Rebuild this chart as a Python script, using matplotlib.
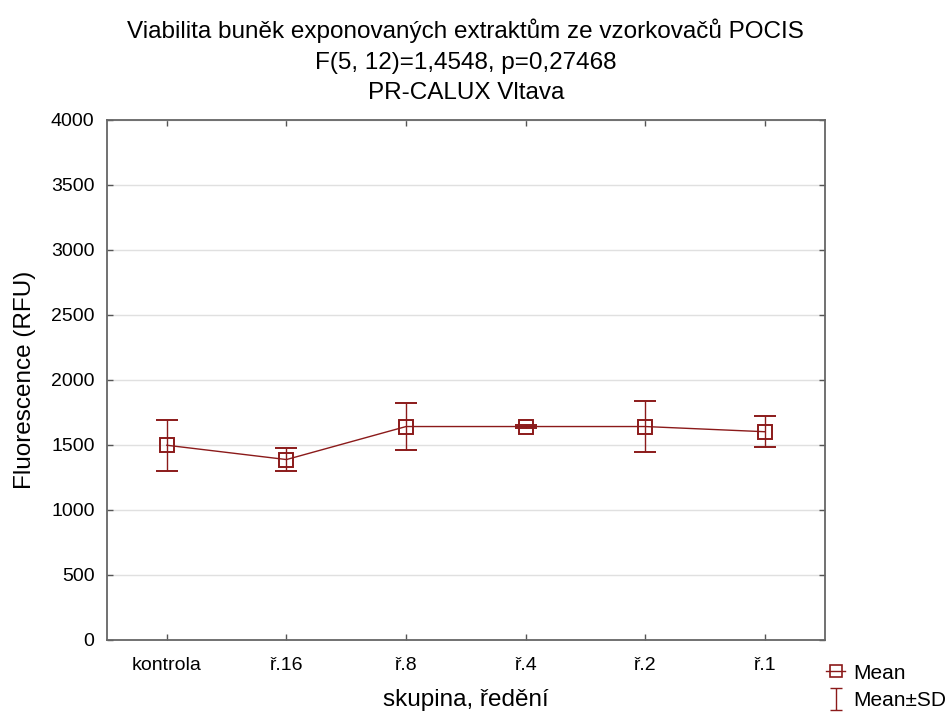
import matplotlib
matplotlib.use("Agg")
import matplotlib.pyplot as plt
from matplotlib.lines import Line2D
from matplotlib.path import Path

plt.rcParams['font.family'] = ['Liberation Sans', 'DejaVu Sans']

# data
groups = ["kontrola", "ř.16", "ř.8", "ř.4", "ř.2", "ř.1"]
means = [1498, 1388, 1642, 1642, 1642, 1602]
sds = [195, 87, 182, 10, 198, 118]

red = "#8b1a1a"

fig = plt.figure(figsize=(9.49, 7.13), dpi=100)
ax = fig.add_axes([0.1128, 0.1024, 0.869 - 0.1128, 0.8317 - 0.1024])

x = list(range(len(groups)))
ax.errorbar(x, means, yerr=sds, color=red, lw=1.0, elinewidth=1.0,
            capsize=8, capthick=1.0, marker='s', markersize=10,
            markerfacecolor='none', markeredgecolor=red, markeredgewidth=1.4)

ax.set_xlim(-0.5, len(groups) - 0.5)
ax.set_ylim(0, 4000)
ax.set_yticks(range(0, 4001, 500))
ax.set_xticks(x)
ax.set_xticklabels(groups)
ax.grid(axis='y', color='#e0e0e0', lw=1.0)
ax.set_axisbelow(True)
ax.tick_params(direction='in', length=4, width=1, color='#555555',
               top=True, right=True, labelsize=14, pad=9)
ax.tick_params(axis='x', pad=12)
for s in ax.spines.values():
    s.set_color('#666666')
    s.set_linewidth(1.3)

ax.set_xlabel("skupina, ředění", fontsize=17.5, labelpad=11)
ax.set_ylabel("Fluorescence (RFU)", fontsize=17.5, labelpad=11)
ax.set_title("Viabilita buněk exponovaných extraktům ze vzorkovačů POCIS\n"
             "F(5, 12)=1,4548, p=0,27468\nPR-CALUX Vltava",
             fontsize=17.5, linespacing=1.5, pad=15)

# legend handles: square with line, and an I-beam for mean +- SD
ibeam = Path([(-0.5, -1), (0.5, -1), (0, -1), (0, 1), (-0.5, 1), (0.5, 1)],
             [Path.MOVETO, Path.LINETO, Path.MOVETO, Path.LINETO,
              Path.MOVETO, Path.LINETO])
mean_h = Line2D([], [], color=red, marker='s', markersize=9, markerfacecolor='none',
                lw=1.0, markeredgewidth=1.2)
sd_h = Line2D([], [], color=red, marker=ibeam, markersize=16, lw=0,
              markeredgewidth=1.0)
fig.legend([mean_h, sd_h], ["Mean", "Mean±SD"], loc='lower right',
           bbox_to_anchor=(1.017, -0.022), frameon=False, fontsize=15,
           handlelength=0.9, handletextpad=0.4, labelspacing=0.4)

fig.savefig("out.png", dpi=100)
